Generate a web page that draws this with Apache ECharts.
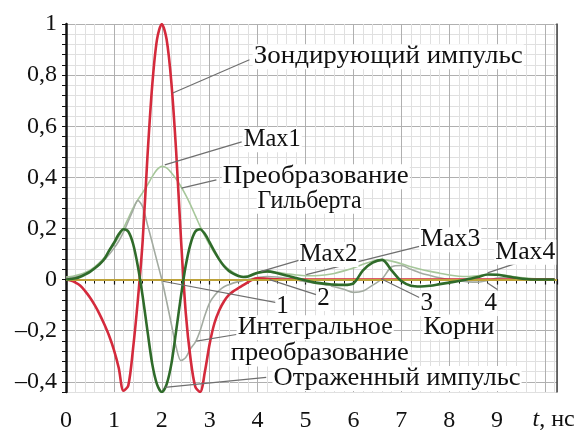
<!DOCTYPE html>
<html><head><meta charset="utf-8">
<script src="https://cdn.jsdelivr.net/npm/echarts@6/dist/echarts.min.js"></script>
<style>html,body{margin:0;padding:0;background:#fff}#c{width:580px;height:433px}</style>
</head><body><div id="c"></div>
<script>
// time, ns
const timeNs = [0,0.1,0.2,0.3,0.4,0.5,0.6,0.7,0.8,0.9,1.0,1.1,1.2,1.3,1.4,1.5,1.6,1.7,1.8,1.9,2.0,2.1,2.2,2.3,2.4,2.5,2.6,2.7,2.8,2.9,3.0,3.1,3.2,3.3,3.4,3.5,3.6,3.7,3.8,3.9,4.0,
  4.2,4.4,4.6,4.8,5.0,5.2,5.4,5.6,5.8,6.0,6.2,6.4,6.6,6.8,7.0,7.2,7.4,7.6,7.8,8.0,8.2,8.4,8.6,8.8,9.0,9.2,9.4,9.6,9.8,10.0,10.2];
// Зондирующий импульс
const probePulse = [0,-0.004,-0.012,-0.024,-0.045,-0.07,-0.1,-0.135,-0.175,-0.22,-0.275,-0.345,-0.435,-0.415,-0.27,-0.08,0.15,0.48,0.76,0.94,1.0,0.94,0.77,0.5,0.16,-0.13,-0.31,-0.42,-0.44,-0.36,-0.25,-0.17,-0.12,-0.085,-0.06,-0.045,-0.033,-0.022,-0.01,0.0,0.005,
  0.003,0.001,0,0,0,0,0,0,0,0,0,0,0,0,0,0,0,0,0,0,0,0,0,0,0,0,0,0,0,0,0];
// Отраженный импульс
const reflectedPulse = [0,0.002,0.005,0.011,0.02,0.03,0.044,0.06,0.08,0.113,0.143,0.177,0.197,0.188,0.14,0.052,-0.065,-0.2,-0.33,-0.41,-0.44,-0.41,-0.33,-0.2,-0.065,0.055,0.14,0.188,0.197,0.178,0.145,0.11,0.078,0.052,0.034,0.022,0.014,0.01,0.012,0.02,0.027,
  0.032,0.026,0.016,0.006,-0.004,-0.012,-0.016,-0.02,-0.021,-0.015,0.036,0.066,0.077,0.035,-0.006,-0.024,-0.027,-0.024,-0.018,-0.012,-0.006,0.002,0.01,0.02,0.019,0.013,0.007,0.002,0,0,0];
// Интегральное преобразование
const integralTransform = [0.004,0.007,0.011,0.016,0.023,0.032,0.044,0.059,0.077,0.098,0.122,0.15,0.185,0.228,0.272,0.31,0.285,0.215,0.145,0.072,0.0,-0.085,-0.175,-0.265,-0.317,-0.305,-0.27,-0.245,-0.2,-0.14,-0.09,-0.062,-0.042,-0.028,-0.02,-0.013,-0.008,-0.004,0.0,0.004,0.008,
  0.012,0.01,0.005,-0.002,-0.008,-0.014,-0.02,-0.028,-0.038,-0.05,-0.045,-0.022,0.003,0.05,0.055,0.04,0.026,0.016,0.007,0.0,-0.005,-0.009,-0.01,-0.004,0.006,0.008,0.005,0.002,0,0,0];
// Преобразование Гильберта (огибающая)
const hilbertTransform = [0.01,0.012,0.016,0.021,0.028,0.037,0.05,0.066,0.086,0.11,0.137,0.167,0.2,0.24,0.28,0.312,0.34,0.37,0.403,0.43,0.443,0.437,0.418,0.393,0.364,0.33,0.292,0.25,0.208,0.17,0.135,0.104,0.078,0.057,0.04,0.027,0.017,0.012,0.012,0.017,0.024,
  0.03,0.028,0.023,0.018,0.015,0.015,0.018,0.024,0.034,0.045,0.06,0.072,0.078,0.072,0.062,0.05,0.04,0.032,0.025,0.018,0.013,0.012,0.015,0.02,0.02,0.016,0.01,0.006,0.003,0.002,0.001];
const xTicks = [0,1,2,3,4,5,6,7,8,9];
const yTicks = [-0.4,-0.2,0,0.2,0.4,0.6,0.8,1];

// annotations: text position (data units) and target text width (px)
const annTexts = [
  {text:'Зондирующий импульс', at:[3.896,0.872], align:'left', w:269},
  {text:'Max1', at:[3.69,0.547], align:'left', w:57},
  {text:'Преобразование', at:[3.25,0.402], align:'left', w:186},
  {text:'Гильберта', at:[3.98,0.306], align:'left', w:104},
  {text:'Max2', at:[4.854,0.098], align:'left', w:58},
  {text:'Max3', at:[7.375,0.156], align:'left', w:60},
  {text:'Max4', at:[8.94,0.107], align:'left', w:60},
  {text:'1', at:[4.52,-0.105], align:'center', w:0},
  {text:'2', at:[5.375,-0.074], align:'center', w:0},
  {text:'3', at:[7.53,-0.094], align:'center', w:0},
  {text:'4', at:[8.865,-0.094], align:'center', w:0},
  {text:'Корни', at:[7.44,-0.186], align:'left', w:71},
  {text:'Интегральное', at:[3.5625,-0.189], align:'left', w:155},
  {text:'преобразование', at:[3.417,-0.291], align:'left', w:178},
  {text:'Отраженный импульс', at:[4.31,-0.387], align:'left', w:247}
];
const annLeaders = [
  [[2.23,0.73],[3.83,0.86]],
  [[2.0625,0.449],[3.667,0.539]],
  [[2.41,0.358],[3.14,0.39]],
  [[4.077,0.032],[4.91,0.078]],
  [[5.015,0.0195],[7.375,0.13]],
  [[8.80,0.026],[9.52,0.071]],
  [[2.02,-0.0066],[4.396,-0.09]],
  [[4.25,0],[5.22,-0.059]],
  [[6.577,0.003],[7.375,-0.07]],
  [[8.80,-0.013],[9.006,-0.039]],
  [[2.723,-0.241],[3.556,-0.215]],
  [[2.0625,-0.422],[4.18,-0.383]]
];

const FONT = 'Liberation Serif';
const FS = 25;
const pairs = arr => timeNs.map((t,i)=>[t,arr[i]]);
function fmtY(v){
  const r = Math.round(v*100);
  if (r % 20 !== 0) return '';
  const val = r/100;
  if (val === 0) return '0';
  if (val === 1) return '1';
  let s = Math.abs(val).toFixed(1).replace('.', ',');
  return (val < 0 ? '\u2013' : '') + s;
}
const chart = echarts.init(document.getElementById('c'), null, {renderer:'canvas'});
const yMin = -0.44, yMax = 1;
chart.setOption({
  animation:false,
  backgroundColor:'#fff',
  grid:{left:66,right:23,top:24,bottom:40},
  xAxis:{type:'value',min:0,max:10.25,interval:1,
    axisLine:{lineStyle:{color:'#111',width:2}},
    axisTick:{show:true,length:5,lineStyle:{color:'#111',width:1.2}},
    minorTick:{show:true,splitNumber:5,length:4,lineStyle:{color:'#111',width:1}},
    splitLine:{show:true,lineStyle:{color:'#b0b0b0',width:1}},
    minorSplitLine:{show:true,lineStyle:{color:'#e0e0e0',width:1}},
    axisLabel:{fontFamily:FONT,fontSize:24,color:'#111',margin:17,
      formatter:v=> xTicks.indexOf(v)>=0 ? String(v) : ''}
  },
  yAxis:[{type:'value',min:yMin,max:yMax,interval:0.04,
    axisLine:{lineStyle:{color:'#111',width:2.5}},
    axisTick:{show:true,length:4,lineStyle:{color:'#111',width:1}},
    splitLine:{show:true,lineStyle:{color:['#e0e0e0','#b0b0b0','#e0e0e0','#e0e0e0','#e0e0e0'],width:1}},
    axisLabel:{fontFamily:FONT,fontSize:24,color:'#111',margin:9,formatter:fmtY}
  },{type:'value',min:yMin,max:yMax,position:'right',
    axisLine:{show:true,onZero:false,lineStyle:{color:'#444',width:1.5}},
    axisTick:{show:false},axisLabel:{show:false},splitLine:{show:false}
  }],
  series:[
    {name:'Преобразование Гильберта',type:'line',data:pairs(hilbertTransform),smooth:0.3,symbol:'none',
      lineStyle:{color:'#a6c79a',width:1.6},z:2},
    {name:'Интегральное преобразование',type:'line',data:pairs(integralTransform),smooth:0.3,symbol:'none',
      lineStyle:{color:'#a3aba1',width:1.6},z:3},
    {name:'Зондирующий импульс',type:'line',data:pairs(probePulse),smooth:0.3,symbol:'none',
      lineStyle:{color:'#d42a3c',width:2.6},z:4},
    {name:'Отраженный импульс',type:'line',data:pairs(reflectedPulse),smooth:0.3,symbol:'none',
      lineStyle:{color:'#2f6b2a',width:2.6},z:5},
    {name:'zero',type:'line',data:[],z:6,
      markLine:{silent:true,symbol:'none',label:{show:false},lineStyle:{color:'#bda23a',width:2,type:'solid'},data:[{yAxis:0}]}}
  ]
});
const P = p => chart.convertToPixel({gridIndex:0}, p);
const mctx = document.createElement('canvas').getContext('2d');
mctx.font = FS + 'px "' + FONT + '"';
const graphics = [];
annLeaders.forEach(l=>{
  const a = P(l[0]), b = P(l[1]);
  graphics.push({type:'line',z:50,shape:{x1:a[0],y1:a[1],x2:b[0],y2:b[1]},style:{stroke:'#6f6f6f',lineWidth:1.2}});
});
annTexts.forEach(t=>{
  const p = P(t.at);
  const mw = mctx.measureText(t.text).width;
  const sx = t.w ? t.w / mw : 1;
  graphics.push({type:'text',z:60,x:p[0],y:p[1],scaleX:sx,style:{text:t.text,fontFamily:FONT,fontSize:FS,fill:'#111',
    align:t.align,verticalAlign:'middle',backgroundColor:'#fff',padding:[0,1]}});
});
const tl = P([9.74,-0.55]);
graphics.push({type:'text',z:60,x:tl[0],y:tl[1],style:{text:'{i|t}, нс',fontFamily:FONT,fontSize:24,fill:'#111',
  align:'left',verticalAlign:'middle',rich:{i:{fontFamily:FONT,fontSize:24,fontStyle:'italic',fill:'#111'}}}});
chart.setOption({graphic:graphics});
</script></body></html>
